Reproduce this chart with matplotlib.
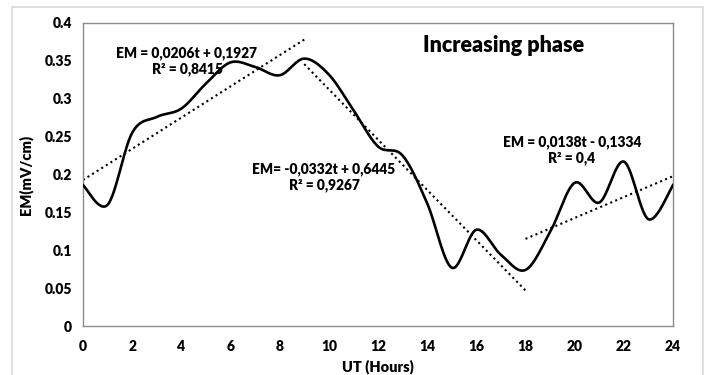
import numpy as np
import matplotlib
matplotlib.use('Agg')
import matplotlib.pyplot as plt
from matplotlib.patches import Rectangle

# hourly EM values
hours = list(range(25))
em_values = [0.186, 0.160, 0.255, 0.276, 0.287, 0.320, 0.348, 0.342, 0.331,
             0.353, 0.332, 0.285, 0.237, 0.225, 0.162, 0.077, 0.127, 0.094,
             0.074, 0.124, 0.189, 0.163, 0.217, 0.141, 0.186]

# linear trend segments: (t_start, t_end, slope, intercept)
trend_ranges = [(0, 9), (9, 18), (18, 24)]
trend_slopes = [0.0206, -0.0332, 0.0138]
trend_intercepts = [0.1927, 0.6445, -0.1334]
trend_labels = ['EM = 0,0206t + 0,1927\nR² = 0,8415',
                'EM= -0,0332t + 0,6445\nR² = 0,9267',
                'EM = 0,0138t - 0,1334\nR² = 0,4']

x_ticks = list(range(0, 25, 2))
y_ticks = [0, 0.05, 0.1, 0.15, 0.2, 0.25, 0.3, 0.35, 0.4]
y_tick_labels = ['0', '0.05', '0.1', '0.15', '0.2', '0.25', '0.3', '0.35', '0.4']


def smooth_curve(x, y, steps=30):
    """Bezier smoothing similar to a spreadsheet 'smoothed line'."""
    x = np.asarray(x, float)
    y = np.asarray(y, float)
    px = np.concatenate([[x[0]], x, [x[-1]]])
    py = np.concatenate([[y[0]], y, [y[-1]]])
    out_x, out_y = [], []
    s = np.linspace(0, 1, steps)
    for i in range(1, len(px) - 2):
        p0 = np.array([px[i], py[i]])
        p3 = np.array([px[i + 1], py[i + 1]])
        c1 = p0 + (p3 - np.array([px[i - 1], py[i - 1]])) / 6
        c2 = p3 - (np.array([px[i + 2], py[i + 2]]) - p0) / 6
        b = ((1 - s) ** 3)[:, None] * p0 + (3 * (1 - s) ** 2 * s)[:, None] * c1 \
            + (3 * (1 - s) * s ** 2)[:, None] * c2 + (s ** 3)[:, None] * p3
        out_x.extend(b[:, 0])
        out_y.extend(b[:, 1])
    return np.array(out_x), np.array(out_y)


plt.rcParams['font.family'] = ['Lato', 'DejaVu Sans']

fig = plt.figure(figsize=(7.08, 3.75), dpi=100)
fig.patches.append(Rectangle((12 / 708, -0.01), 691 / 708, 1 - 7 / 375 + 0.01,
                             transform=fig.transFigure, fill=False,
                             edgecolor='#d9d9d9', linewidth=1.2))
ax = fig.add_axes([83 / 708, 1 - 326 / 375, 590 / 708, 303 / 375])

sx, sy = smooth_curve(hours, em_values)
ax.plot(sx, sy, color='black', linewidth=1.9, zorder=3)

for (t0, t1), m, b in zip(trend_ranges, trend_slopes, trend_intercepts):
    t = np.array([t0, t1])
    ax.plot(t, m * t + b, color='black', linestyle=(0, (1, 1.6)),
            linewidth=1.5, zorder=2)

# annotation positions in axes fraction
label_pos = [((187 - 83) / 590, (326 - 61) / 303),
             ((324 - 83) / 590, (326 - 177) / 303),
             ((572 - 83) / 590, (326 - 150) / 303)]
for text, (xa, ya) in zip(trend_labels, label_pos):
    ax.text(xa, ya, text, transform=ax.transAxes, ha='center', va='center',
            fontsize=9.9, fontweight='heavy', linespacing=1.2)

ax.text((504 - 83) / 590, (326 - 46) / 303, 'Increasing phase',
        transform=ax.transAxes, ha='center', va='center',
        fontsize=15.5, fontweight='heavy')

ax.set_xlim(0, 24)
ax.set_ylim(0, 0.4)
ax.set_xticks(x_ticks)
ax.set_yticks(y_ticks)
ax.set_yticklabels(y_tick_labels)
ax.tick_params(axis='y', length=0, labelsize=10, pad=8)
ax.tick_params(axis='x', length=0, labelsize=10, pad=10)
for lab in ax.get_xticklabels() + ax.get_yticklabels():
    lab.set_fontweight('heavy')
for sp in ax.spines.values():
    sp.set_color('#8c8c8c')
    sp.set_linewidth(1.0)

ax.set_xlabel('UT (Hours)', fontsize=10.5, fontweight='heavy', labelpad=5)
ax.set_ylabel('EM(mV/cm)', fontsize=10.5, fontweight='heavy', labelpad=8)

fig.savefig('out.png', dpi=100)
